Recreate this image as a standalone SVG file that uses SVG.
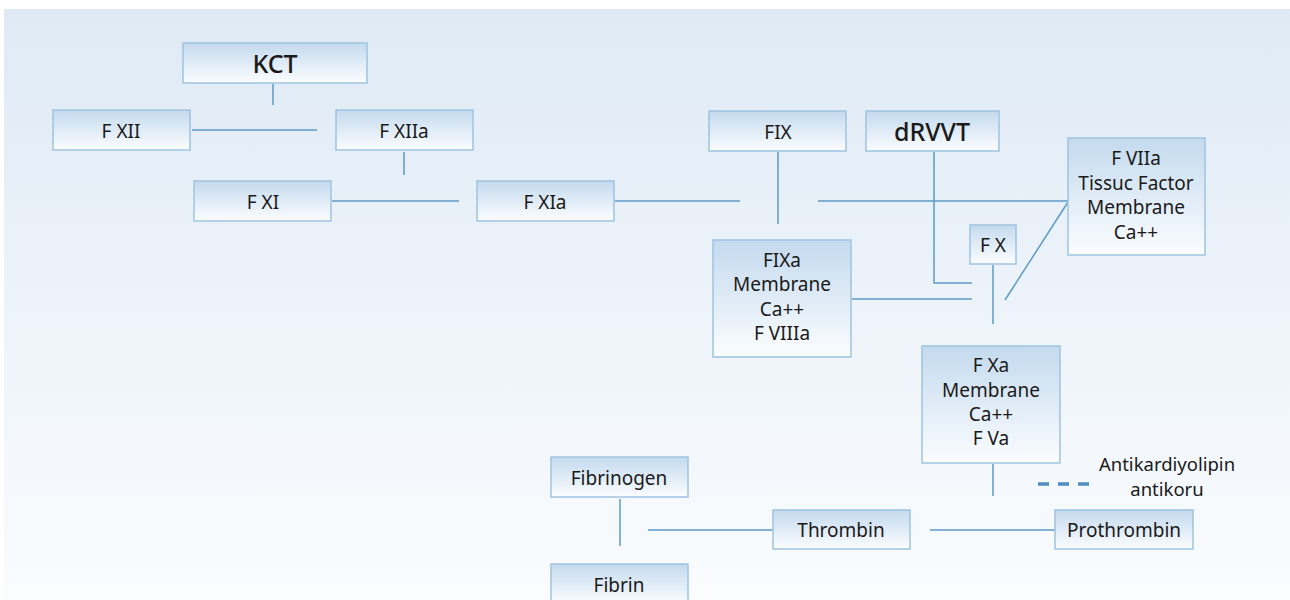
<svg xmlns="http://www.w3.org/2000/svg" width="1290" height="600" viewBox="0 0 1290 600">
<defs>
<linearGradient id="bg" x1="0" y1="0" x2="0" y2="1">
<stop offset="0" stop-color="#dfeaf5"/>
<stop offset="1" stop-color="#fafcfe"/>
</linearGradient>
<linearGradient id="box" x1="0" y1="0" x2="0" y2="1">
<stop offset="0" stop-color="#c4daee"/>
<stop offset="1" stop-color="#fbfdff"/>
</linearGradient>
<style>
.b{fill:url(#box);stroke:#9fc3df;stroke-width:1.5}
.t{font-family:"Noto Sans","Open Sans",sans-serif;font-size:19px;fill:#1a1a1a;text-anchor:middle}
.h{font-size:25px;font-weight:500}
.l{font-size:18.5px}
.c{stroke:#5d9ac6;stroke-width:1.5;fill:none}
</style>
</defs>
<rect width="1290" height="600" fill="#ffffff"/>
<rect x="4" y="9" width="1286" height="591" fill="url(#bg)"/>
<g id="connectors">
<path class="c" d="M273 84V105"/>
<path class="c" d="M192 130H317"/>
<path class="c" d="M404 152V175"/>
<path class="c" d="M332 201H459"/>
<path class="c" d="M615 201H740"/>
<path class="c" d="M778 152V224"/>
<path class="c" d="M818 201H1068"/>
<path class="c" d="M934 152V283H972"/>
<path class="c" d="M1068 202L1005 300"/>
<path class="c" d="M852 299H972"/>
<path class="c" d="M993 265V324"/>
<path class="c" d="M993 464V496"/>
<path class="c" d="M620 499V546"/>
<path class="c" d="M648 530H773"/>
<path class="c" d="M930 530H1055"/>
<path d="M1038 484H1092" stroke="#4f8dc0" stroke-width="3.5" stroke-dasharray="11 9" fill="none"/>
</g>
<g id="kct"><rect class="b" x="183" y="43" width="184" height="40"/><text class="t h" x="275" y="73">KCT</text></g>
<g id="fxii"><rect class="b" x="53" y="110" width="137" height="40"/><text class="t" x="121" y="138">F XII</text></g>
<g id="fxiia"><rect class="b" x="336" y="110" width="137" height="40"/><text class="t" x="404" y="138">F XIIa</text></g>
<g id="fxi"><rect class="b" x="194" y="181" width="137" height="40"/><text class="t" x="263" y="209">F XI</text></g>
<g id="fxia"><rect class="b" x="477" y="181" width="137" height="40"/><text class="t" x="545" y="209">F XIa</text></g>
<g id="fix"><rect class="b" x="709" y="111" width="137" height="40"/><text class="t" x="778" y="139">FIX</text></g>
<g id="drvvt"><rect class="b" x="866" y="111" width="133" height="40"/><text class="t h" x="932" y="141">dRVVT</text></g>
<g id="fviia"><rect class="b" x="1068" y="138" width="137" height="117"/>
<text class="t" x="1136" y="165">F VIIa</text><text class="t" x="1136" y="190">Tissuc Factor</text><text class="t" x="1136" y="214">Membrane</text><text class="t" x="1136" y="239">Ca++</text></g>
<g id="fx"><rect class="b" x="970" y="225" width="46" height="39"/><text class="t" x="993" y="252">F X</text></g>
<g id="fixa"><rect class="b" x="713" y="240" width="138" height="117"/>
<text class="t" x="782" y="267">FIXa</text><text class="t" x="782" y="291">Membrane</text><text class="t" x="782" y="316">Ca++</text><text class="t" x="782" y="340">F VIIIa</text></g>
<g id="fxa"><rect class="b" x="922" y="346" width="138" height="117"/>
<text class="t" x="991" y="372">F Xa</text><text class="t" x="991" y="397">Membrane</text><text class="t" x="991" y="421">Ca++</text><text class="t" x="991" y="445">F Va</text></g>
<g id="legend"><text class="t l" x="1167" y="471">Antikardiyolipin</text><text class="t l" x="1167" y="496">antikoru</text></g>
<g id="fibrinogen"><rect class="b" x="551" y="457" width="137" height="40"/><text class="t" x="619" y="485">Fibrinogen</text></g>
<g id="fibrin"><rect class="b" x="551" y="564" width="137" height="40"/><text class="t" x="619" y="592">Fibrin</text></g>
<g id="thrombin"><rect class="b" x="773" y="510" width="137" height="39"/><text class="t" x="841" y="537">Thrombin</text></g>
<g id="prothrombin"><rect class="b" x="1055" y="510" width="138" height="39"/><text class="t" x="1124" y="537">Prothrombin</text></g>
</svg>
